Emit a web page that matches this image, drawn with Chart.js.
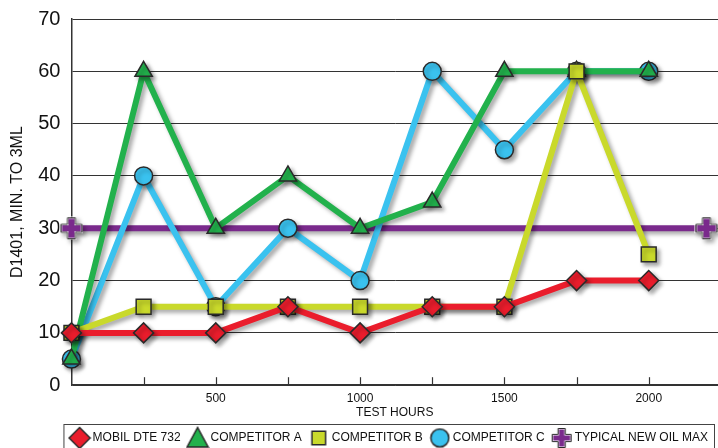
<!DOCTYPE html>
<html>
<head>
<meta charset="utf-8">
<script src="https://cdn.jsdelivr.net/npm/chart.js@4.4.1/dist/chart.umd.min.js"></script>
<style>
  html, body { margin: 0; padding: 0; background: #fff; }
  #wrap { width: 718px; height: 448px; }
</style>
</head>
<body>
<div id="wrap"><canvas id="oilChart" width="718" height="448"></canvas></div>
<script>
// test hours and D1401 results (minutes to 3 ml)
const hours = [0, 250, 500, 750, 1000, 1250, 1500, 1750, 2000];
const mobilDte732 = [10, 10, 10, 15, 10, 15, 15, 20, 20];
const competitorA = [5, 60, 30, 40, 30, 35, 60, 60, 60];
const competitorB = [10, 15, 15, 15, 15, 15, 15, 60, 25];
const competitorC = [5, 40, 15, 30, 20, 60, 45, 60, 60];
const oilMaxHours = [0, 2200];
const oilMaxValues = [30, 30];
const xLabels = [500, 1000, 1500, 2000];

const outline = '#2a2a2a';

function pairs(xs, ys) {
    return xs.map(function(x, i) { return { x: x, y: ys[i] }; });
}

// small canvas markers (used for the plus point and for the legend)
function marker(kind, fill, size) {
    const c = document.createElement('canvas');
    c.width = size; c.height = size;
    const g = c.getContext('2d');
    const m = size / 2;
    const r = m - 1.5;
    g.beginPath();
    if (kind === 'diamond') {
        g.moveTo(m, m - r); g.lineTo(m + r, m); g.lineTo(m, m + r); g.lineTo(m - r, m);
    } else if (kind === 'triangle') {
        g.moveTo(m, 1.5); g.lineTo(size - 1.5, size - 3); g.lineTo(1.5, size - 3);
    } else if (kind === 'square') {
        g.rect(m - r * 0.8, m - r * 0.8, r * 1.6, r * 1.6);
    } else if (kind === 'circle') {
        g.arc(m, m, r, 0, Math.PI * 2);
    } else {
        const a = r * 0.38;
        const pts = [[-a,-r],[a,-r],[a,-a],[r,-a],[r,a],[a,a],[a,r],[-a,r],[-a,a],[-r,a],[-r,-a],[-a,-a]];
        pts.forEach(function(p, i) {
            if (i === 0) g.moveTo(m + p[0], m + p[1]); else g.lineTo(m + p[0], m + p[1]);
        });
    }
    g.closePath();
    g.fillStyle = fill;
    g.fill();
    if (kind === 'plus') {
        g.lineWidth = 2;
        g.strokeStyle = '#ffffff';
        g.stroke();
        g.lineWidth = 1;
    } else {
        g.lineWidth = 1.5;
    }
    g.strokeStyle = outline;
    g.stroke();
    return c;
}

const plusPoint = marker('plus', '#7a2a8c', 24);
const legendMarks = [
    marker('diamond', '#ea1d2c', 24),
    marker('triangle', '#22b14c', 24),
    marker('square', '#c9d92b', 20),
    marker('circle', '#3ac2ef', 21),
    marker('plus', '#7a2a8c', 22)
];

const shadowPlugin = {
    id: 'shadow',
    beforeDatasetsDraw(chart) {
        const ctx = chart.ctx;
        ctx.save();
        ctx.shadowColor = 'rgba(0,0,0,0.35)';
        ctx.shadowBlur = 4;
        ctx.shadowOffsetX = 3;
        ctx.shadowOffsetY = 3;
    },
    afterDatasetsDraw(chart) {
        chart.ctx.restore();
    }
};

const decorPlugin = {
    id: 'decor',
    beforeDraw(chart) {
        const ctx = chart.ctx;
        const area = chart.chartArea;
        ctx.save();
        ctx.strokeStyle = '#444';
        ctx.lineWidth = 1;
        ctx.strokeRect(area.left - 7.5, 424.5, 715 - area.left + 7, 30);
        ctx.restore();
    },
    afterDraw(chart) {
        const ctx = chart.ctx;
        const xs = chart.scales.x;
        const area = chart.chartArea;
        ctx.save();
        // inward tick marks on the hours axis
        ctx.strokeStyle = '#333';
        ctx.lineWidth = 1.2;
        for (let v = 250; v <= 2000; v += 250) {
            const px = Math.round(xs.getPixelForValue(v)) + 0.5;
            ctx.beginPath();
            ctx.moveTo(px, area.bottom);
            ctx.lineTo(px, area.bottom - 8);
            ctx.stroke();
        }
        ctx.restore();
    }
};

new Chart(document.getElementById('oilChart'), {
    type: 'line',
    data: {
        datasets: [{
            label: 'MOBIL DTE 732',
            data: pairs(hours, mobilDte732),
            borderColor: '#ea1d2c',
            pointBackgroundColor: '#ea1d2c',
            pointStyle: 'rectRot',
            pointRadius: 10,
            order: 0
        }, {
            label: 'COMPETITOR A',
            data: pairs(hours, competitorA),
            borderColor: '#22b14c',
            pointBackgroundColor: '#22b14c',
            pointStyle: 'triangle',
            pointRadius: 10,
            order: 2
        }, {
            label: 'COMPETITOR B',
            data: pairs(hours, competitorB),
            borderColor: '#c9d92b',
            pointBackgroundColor: '#c9d92b',
            pointStyle: 'rect',
            pointRadius: 10.5,
            order: 1
        }, {
            label: 'COMPETITOR C',
            data: pairs(hours, competitorC),
            borderColor: '#3ac2ef',
            pointBackgroundColor: '#3ac2ef',
            pointStyle: 'circle',
            pointRadius: 9,
            order: 3
        }, {
            label: 'TYPICAL NEW OIL MAX',
            data: pairs(oilMaxHours, oilMaxValues),
            borderColor: '#7a2a8c',
            pointBackgroundColor: '#7a2a8c',
            pointStyle: plusPoint,
            pointRadius: 11,
            order: 4
        }].map(function(d) {
            d.backgroundColor = d.borderColor;
            d.borderWidth = 6;
            d.pointBorderColor = outline;
            d.pointBorderWidth = 1.5;
            d.tension = 0;
            d.clip = false;
            return d;
        })
    },
    options: {
        responsive: false,
        animation: false,
        layout: { autoPadding: false, padding: { left: 8, right: 0, top: 4, bottom: -6 } },
        scales: {
            x: {
                type: 'linear',
                min: 0,
                max: 2240,
                afterBuildTicks(scale) {
                    scale.ticks = xLabels.map(function(v) { return { value: v }; });
                },
                afterFit(scale) {
                    scale.paddingLeft = 0;
                    scale.paddingRight = 0;
                },
                grid: { display: false, drawTicks: false },
                border: { display: true, color: '#333', width: 1.5 },
                ticks: {
                    color: '#111',
                    padding: 6,
                    maxRotation: 0,
                    font: { family: 'Liberation Sans', size: 12 },
                    callback: function(v) { return String(v); }
                },
                title: {
                    display: true,
                    text: 'TEST HOURS',
                    color: '#111',
                    padding: { top: -6, bottom: 2 },
                    font: { family: 'Liberation Sans', size: 12 }
                }
            },
            y: {
                min: 0,
                max: 70,
                afterFit(scale) {
                    scale.paddingTop = 19;
                },
                ticks: {
                    stepSize: 10,
                    color: '#111',
                    padding: 11,
                    font: { family: 'Liberation Sans', size: 20 }
                },
                grid: { color: '#333', lineWidth: 1, drawTicks: false },
                border: { display: true, color: '#333', width: 1.5 },
                title: {
                    display: true,
                    text: 'D1401, MIN. TO 3ML',
                    color: '#111',
                    padding: { top: 0, bottom: 0 },
                    font: { family: 'Liberation Sans', size: 16 }
                }
            }
        },
        plugins: {
            tooltip: { enabled: false },
            legend: {
                position: 'bottom',
                align: 'end',
                labels: {
                    usePointStyle: true,
                    pointStyleWidth: 14,
                    padding: 10,
                    color: '#111',
                    font: { family: 'Liberation Sans', size: 12 },
                    generateLabels(chart) {
                        const items = Chart.defaults.plugins.legend.labels.generateLabels(chart);
                        items.sort(function(a, b) { return a.datasetIndex - b.datasetIndex; });
                        items.forEach(function(it) { it.pointStyle = legendMarks[it.datasetIndex]; });
                        return items;
                    }
                }
            }
        }
    },
    plugins: [shadowPlugin, decorPlugin]
});
</script>
</body>
</html>
